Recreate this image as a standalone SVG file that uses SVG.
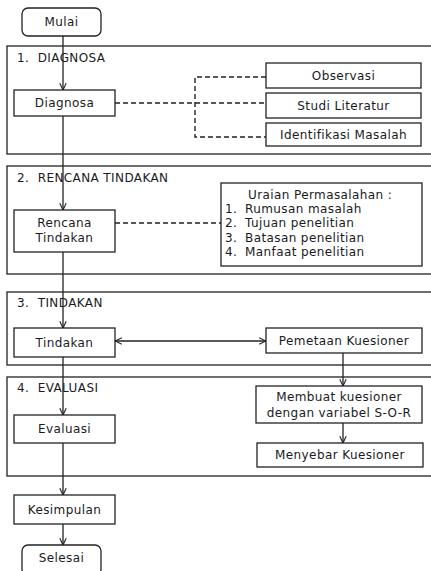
<svg xmlns="http://www.w3.org/2000/svg" width="431" height="571" viewBox="0 0 431 571">
<style>
.sec{fill:none;stroke:#222;stroke-width:1.3}
.box{fill:#fff;stroke:#222;stroke-width:1.3}
.t{font-family:"DejaVu Sans",Verdana,sans-serif;font-size:12px;letter-spacing:0.4px;fill:#1a1a24}
.c{text-anchor:middle}
.ln{fill:none;stroke:#222;stroke-width:1.3}
.dash{fill:none;stroke:#222;stroke-width:1.4;stroke-dasharray:5 3}
</style>
<defs>
<marker id="arr" viewBox="0 0 10 10" refX="9.5" refY="5" markerWidth="8" markerHeight="8" markerUnits="userSpaceOnUse" orient="auto-start-reverse">
<path d="M1,1 L9.5,5 L1,9" fill="none" stroke="#222" stroke-width="1.4"/>
</marker>
</defs>
<rect width="431" height="571" fill="#fff"/>
<g id="sections">
<g id="sec1"><rect class="sec" x="7" y="46" width="440" height="108"/><text class="t" x="17" y="62" xml:space="preserve">1.  DIAGNOSA</text></g>
<g id="sec2"><rect class="sec" x="7" y="166" width="440" height="108"/><text class="t" x="17" y="182" xml:space="preserve">2.  RENCANA TINDAKAN</text></g>
<g id="sec3"><rect class="sec" x="7" y="292" width="440" height="73"/><text class="t" x="17" y="307" xml:space="preserve">3.  TINDAKAN</text></g>
<g id="sec4"><rect class="sec" x="7" y="377" width="440" height="99"/><text class="t" x="17" y="392" xml:space="preserve">4.  EVALUASI</text></g>
</g>
<g id="connectors">
<line class="ln" x1="63" y1="36" x2="63" y2="90" marker-end="url(#arr)"/>
<line class="ln" x1="63" y1="116" x2="63" y2="210" marker-end="url(#arr)"/>
<line class="ln" x1="63" y1="252" x2="63" y2="328" marker-end="url(#arr)"/>
<line class="ln" x1="63" y1="357" x2="63" y2="415" marker-end="url(#arr)"/>
<line class="ln" x1="63" y1="443" x2="63" y2="495" marker-end="url(#arr)"/>
<line class="ln" x1="63" y1="524" x2="63" y2="545" marker-end="url(#arr)"/>
<line class="ln" x1="115" y1="341" x2="266" y2="341" marker-start="url(#arr)" marker-end="url(#arr)"/>
<line class="ln" x1="343" y1="353" x2="343" y2="386" marker-end="url(#arr)"/>
<line class="ln" x1="343" y1="423" x2="343" y2="443" marker-end="url(#arr)"/>
<line class="dash" x1="115" y1="103" x2="266" y2="103"/>
<polyline class="dash" points="266,77 195,77 195,137 266,137"/>
<line class="dash" x1="115" y1="223" x2="221" y2="223"/>
</g>
<g id="mulai"><rect class="box" x="22" y="8" width="79" height="28" rx="6"/><text class="t c" x="61.5" y="26">Mulai</text></g>
<g id="diagnosa"><rect class="box" x="14" y="90" width="101" height="26"/><text class="t c" x="64.5" y="107">Diagnosa</text></g>
<g id="observasi"><rect class="box" x="266" y="63" width="155" height="25"/><text class="t c" x="343.5" y="80">Observasi</text></g>
<g id="studi"><rect class="box" x="266" y="93" width="155" height="25"/><text class="t c" x="343.5" y="110">Studi Literatur</text></g>
<g id="identifikasi"><rect class="box" x="266" y="123" width="155" height="23"/><text class="t c" x="343.5" y="139">Identifikasi Masalah</text></g>
<g id="rencana"><rect class="box" x="14" y="210" width="101" height="42"/><text class="t c" x="64.5" y="227">Rencana</text><text class="t c" x="64.5" y="242">Tindakan</text></g>
<g id="uraian"><rect class="box" x="221" y="183" width="201" height="83"/>
<text class="t" x="248" y="199">Uraian Permasalahan :</text>
<text class="t" x="225" y="213">1.<tspan x="245">Rumusan masalah</tspan></text>
<text class="t" x="225" y="227">2.<tspan x="245">Tujuan penelitian</tspan></text>
<text class="t" x="225" y="242">3.<tspan x="245">Batasan penelitian</tspan></text>
<text class="t" x="225" y="256">4.<tspan x="245">Manfaat penelitian</tspan></text>
</g>
<g id="tindakan"><rect class="box" x="14" y="328" width="101" height="29"/><text class="t c" x="64.5" y="347">Tindakan</text></g>
<g id="pemetaan"><rect class="box" x="266" y="328" width="156" height="25"/><text class="t c" x="344" y="345">Pemetaan Kuesioner</text></g>
<g id="membuat"><rect class="box" x="256" y="386" width="166" height="37"/><text class="t c" x="339" y="401">Membuat kuesioner</text><text class="t c" x="339" y="417">dengan variabel S-O-R</text></g>
<g id="menyebar"><rect class="box" x="257" y="443" width="166" height="24"/><text class="t c" x="340" y="459">Menyebar Kuesioner</text></g>
<g id="evaluasi"><rect class="box" x="14" y="415" width="101" height="28"/><text class="t c" x="64.5" y="433">Evaluasi</text></g>
<g id="kesimpulan"><rect class="box" x="14" y="495" width="101" height="29"/><text class="t c" x="64.5" y="514">Kesimpulan</text></g>
<g id="selesai"><rect class="box" x="22" y="545" width="79" height="30" rx="6"/><text class="t c" x="61.5" y="562">Selesai</text></g>
</svg>
